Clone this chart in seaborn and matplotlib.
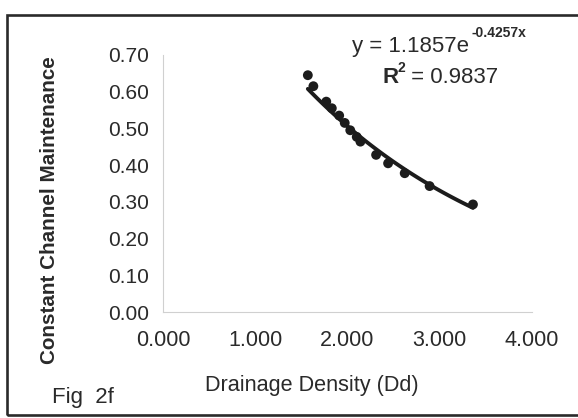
import numpy as np
import pandas as pd
import matplotlib
matplotlib.use("Agg")
import matplotlib.pyplot as plt
import seaborn as sns

# Data
drainage_density = [1.57, 1.63, 1.77, 1.83, 1.91, 1.97, 2.03, 2.10, 2.14, 2.31, 2.44, 2.62, 2.89, 3.36]
channel_maint = [0.645, 0.615, 0.573, 0.555, 0.535, 0.515, 0.495, 0.477, 0.464, 0.428, 0.405, 0.378, 0.343, 0.293]
fit_a = 1.1857
fit_b = -0.4257
r_squared = 0.9837
x_ticks = [0.0, 1.0, 2.0, 3.0, 4.0]
y_ticks = [0.0, 0.1, 0.2, 0.3, 0.4, 0.5, 0.6, 0.7]

sns.set_style("white")
plt.rcParams['font.family'] = ['Liberation Sans', 'DejaVu Sans']

W, H = 578, 418
fig = plt.figure(figsize=(W / 100, H / 100), dpi=100)
ax = fig.add_axes([163 / W, 1 - 312 / H, (532 - 163) / W, (312 - 55) / H])

df = pd.DataFrame({"x": drainage_density, "y": channel_maint})
xs = np.linspace(min(drainage_density), max(drainage_density), 100)
fit = pd.DataFrame({"x": xs, "y": fit_a * np.exp(fit_b * xs)})

sns.lineplot(data=fit, x="x", y="y", ax=ax, color="#1c1c1c", linewidth=2.8, zorder=2)
sns.scatterplot(data=df, x="x", y="y", ax=ax, color="#1c1c1c", s=50, edgecolor="none", zorder=3)

ax.set_xlim(0, 4)
ax.set_ylim(0, 0.7)
ax.set_xticks(x_ticks)
ax.set_xticklabels([f"{v:.3f}" for v in x_ticks])
ax.set_yticks(y_ticks)
ax.set_yticklabels([f"{v:.2f}" for v in y_ticks])
for s in ["top", "right"]:
    ax.spines[s].set_visible(False)
for s in ["left", "bottom"]:
    ax.spines[s].set_color("#d0d0d0")
    ax.spines[s].set_linewidth(0.8)
ax.tick_params(axis="both", which="major", length=4, width=0.8, color="#d0d0d0",
               labelcolor="#2a2a2a", direction="out")
ax.tick_params(axis="y", labelsize=15, pad=6)
ax.tick_params(axis="x", labelsize=15.5, pad=9)
ax.set_xlabel("")
ax.set_ylabel("")

txt = "#2a2a2a"
fig.text(312 / W, 1 - 385 / H, "Drainage Density (Dd)", ha="center", va="center",
         fontsize=15.6, color=txt)
fig.text(50 / W, 1 - 210 / H, "Constant Channel Maintenance", ha="center", va="center",
         rotation=90, fontsize=14.9, fontweight="bold", color=txt)
fig.text(52 / W, 1 - 397 / H, "Fig  2f", ha="left", va="center", fontsize=16, color=txt)

# trendline equation
fig.text(352 / W, 1 - 52 / H, "y = 1.1857e", ha="left", va="baseline", fontsize=16, color=txt)
fig.text(472 / W, 1 - 37 / H, f"{fit_b:.4f}x", ha="left", va="baseline", fontsize=10,
         fontweight="bold", color=txt)
fig.text(382 / W, 1 - 83 / H, "R", ha="left", va="baseline", fontsize=16,
         fontweight="bold", color=txt)
fig.text(398 / W, 1 - 72 / H, "2", ha="left", va="baseline", fontsize=10,
         fontweight="bold", color=txt)
fig.text(405 / W, 1 - 83 / H, f" = {r_squared:.4f}", ha="left", va="baseline", fontsize=16,
         color=txt)

# frame around the figure
frame = plt.Rectangle((7 / W, 1 - 415 / H), 1.2, (415 - 15) / H, transform=fig.transFigure,
                      fill=False, edgecolor="#2a2a2a", linewidth=1.9)
fig.patches.append(frame)

fig.savefig("out.png", dpi=100)
